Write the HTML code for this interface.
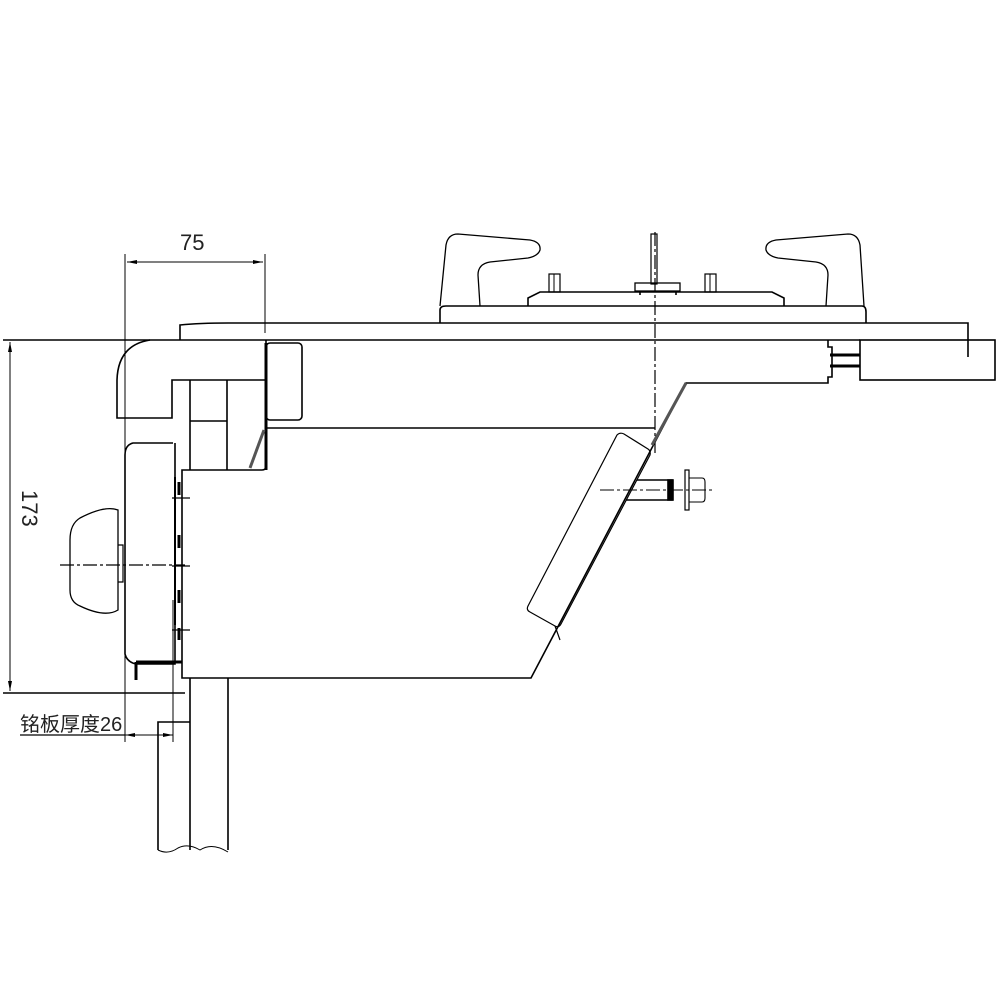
<!DOCTYPE html>
<html><head><meta charset="utf-8"><style>
html,body{margin:0;padding:0;background:#fff;}
svg{display:block;}
text{font-family:"Liberation Sans","Noto Sans CJK SC",sans-serif;fill:#222;}
</style></head><body>
<svg width="1000" height="997" viewBox="0 0 1000 997" xmlns="http://www.w3.org/2000/svg" fill="none" stroke="#000" stroke-width="1.6">
<!-- dimension 75 -->
<line x1="125" y1="254" x2="125" y2="742" stroke-width="1"/>
<line x1="265" y1="254" x2="265" y2="333" stroke-width="1"/>
<line x1="127" y1="262" x2="263" y2="262" stroke-width="1"/>
<path d="M127 262 l10 -2 v4z M263 262 l-10 -2 v4z" fill="#000" stroke="none"/>
<text x="180" y="250" font-size="22" stroke="none">75</text>
<!-- dimension 173 -->
<line x1="3" y1="340" x2="860" y2="340"/>
<line x1="3" y1="693" x2="185" y2="693"/>
<line x1="10" y1="342" x2="10" y2="691" stroke-width="1"/>
<path d="M10 342 l-2 10 h4z M10 691 l-2 -10 h4z" fill="#000" stroke="none"/>
<text x="0" y="0" font-size="22" stroke="none" transform="translate(22,490) rotate(90)">173</text>
<!-- top plate -->
<path d="M180 340 V325 Q200 323 228 323 H968 V357"/>
<!-- burner base -->
<path d="M440 323 V310 Q440 306 446 306 H862 Q866 306 866 312 V323"/>
<path d="M528 306 V298 L540 292 H772 L784 298 V306"/>
<rect x="549" y="274" width="11" height="18" stroke-width="1.2"/>
<line x1="554" y1="274" x2="554" y2="292" stroke-width="1"/>
<rect x="705" y="274" width="11" height="18" stroke-width="1.2"/>
<line x1="710" y1="274" x2="710" y2="292" stroke-width="1"/>
<rect x="651" y="234" width="6" height="50" stroke-width="1.2"/>
<rect x="635" y="283" width="45" height="8" stroke-width="1.3"/>
<path d="M640 291 v4 M676 291 v4"/>
<!-- grates -->
<path d="M440 306 L446 245 Q448 234 458 234 L530 240 Q541 242 540 250 Q538 256 528 258 L490 262 Q478 264 478 275 L480 306" stroke-width="1.3"/>
<path d="M864 306 L860 245 Q858 234 848 234 L776 240 Q765 242 766 250 Q768 256 778 258 L816 262 Q828 264 828 275 L826 306" stroke-width="1.3"/>
<!-- centerline -->
<line x1="655" y1="232" x2="655" y2="455" stroke-width="1.2" stroke-dasharray="14 3 3 3"/>
<!-- body top edge -->
<path d="M828 340 V347 H832 V377 H828 V383 H686 L531 678 H182 V470 H262 Q266 470 266 466 V340"/>
<line x1="266" y1="428" x2="655" y2="428"/>
<path d="M686 383 L652 445" stroke-width="3" stroke="#555"/>
<!-- counter right -->
<rect x="860" y="340" width="135" height="40"/>
<line x1="830" y1="355" x2="860" y2="355" stroke-width="3"/>
<line x1="830" y1="366" x2="860" y2="366" stroke-width="3"/>
<!-- valve box -->
<path d="M617 435 Q620 432 624 434 L648 449 Q651 451 650 455 L561 624 Q559 628 555 626 L530 612 Q526 610 528 606 Z" stroke-width="1.2"/>
<path d="M555 626 L560 640" stroke-width="1.2"/>
<!-- bolt -->
<line x1="600" y1="490" x2="712" y2="490" stroke-width="1.1" stroke-dasharray="14 3 3 3"/>
<path d="M637 480 H672 V500 H626"/>
<rect x="668" y="480" width="5" height="20" fill="#000"/>
<rect x="685" y="470" width="4" height="40" stroke-width="1.2"/>
<path d="M689 478 H702 Q705 478 705 482 V498 Q705 502 702 502 H689" stroke-width="1.1"/>
<!-- left frame -->
<path d="M150 340 Q118 345 117 380 V418 H172 V380 H266"/>
<rect x="266" y="343" width="36" height="77" rx="4" stroke-width="1.6"/>
<line x1="266" y1="343" x2="266" y2="470" stroke-width="3"/>
<line x1="190" y1="380" x2="190" y2="470"/>
<line x1="227" y1="380" x2="227" y2="470"/>
<line x1="190" y1="421" x2="227" y2="421"/>
<path d="M264 430 L250 468" stroke-width="3" stroke="#555"/>
<!-- knob holder -->
<path d="M173 443 H133 Q125 445 125 455 V654 Q127 662 136 664 H175 V443"/>
<path d="M175 477 V625" stroke-width="2"/>
<path d="M179 482 V495 M179 535 V548 M179 590 V603 M179 628 V640" stroke-width="3"/>
<path d="M172 498 H190 M172 630 H190 M172 566 H190" stroke-width="1.2"/>
<path d="M136 662 H182 M136 662 V680" stroke-width="3"/>
<!-- knob -->
<path d="M118 510 Q105 505 80 518 Q70 524 70 540 V590 Q70 602 80 606 Q105 618 118 610 Z" stroke-width="1.3"/>
<path d="M118 545 H123 V582 H118" stroke-width="1.2"/>
<line x1="60" y1="565" x2="185" y2="565" stroke-width="1.2" stroke-dasharray="14 3 3 3"/>
<!-- board below -->
<path d="M158 850 V722 H190 M190 678 V850 M228 678 V850" />
<line x1="173" y1="600" x2="173" y2="742" stroke-width="1"/>
<path d="M158 850 Q168 855 178 848 Q188 843 200 850 Q212 842 228 852" stroke-width="1"/>
<!-- nameplate dim -->
<text x="20" y="731" font-size="20" stroke="none">铭板厚度26</text>
<line x1="20" y1="735" x2="125" y2="735" stroke-width="1.2"/>
<line x1="125" y1="735" x2="173" y2="735" stroke-width="1"/>
<path d="M125 735 l10 -2 v4z M173 735 l-10 -2 v4z" fill="#000" stroke="none"/>
</svg>
</body></html>
